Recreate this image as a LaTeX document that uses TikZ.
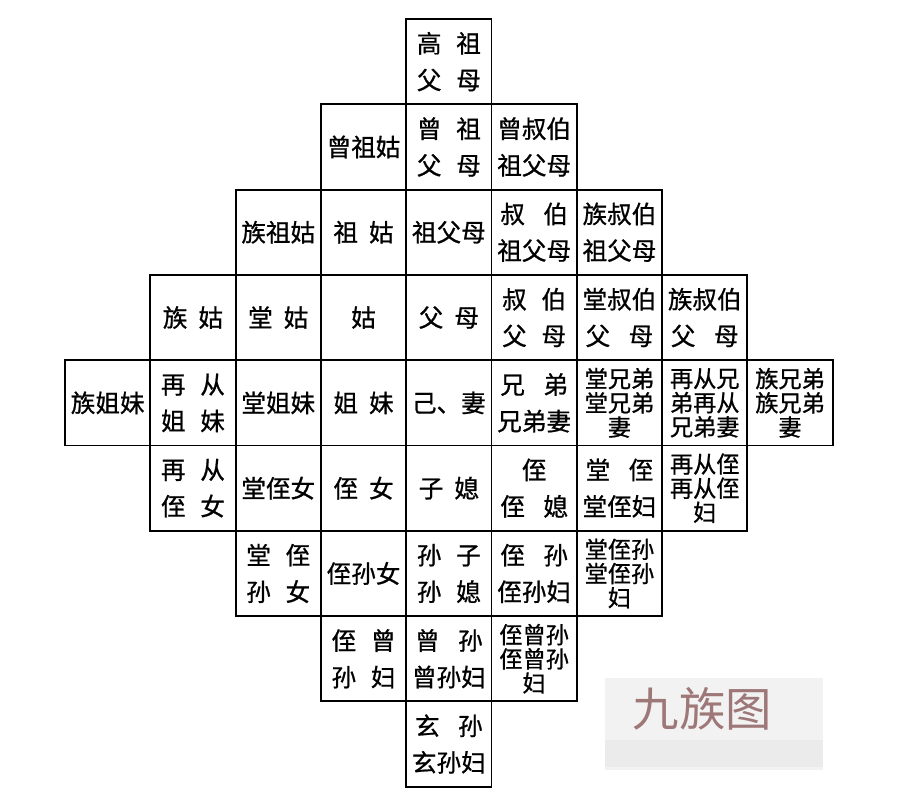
\documentclass[tikz,border=0pt]{standalone}
\usepackage{fontspec}
\setmainfont{Noto Sans CJK SC}
\newfontfamily\cellfont{Noto Sans CJK SC}[FakeBold=0.8]
\usepackage{tikz}
\usepackage{xcolor}
\definecolor{markred}{HTML}{9E7778}
\newcommand{\sgap}{\hspace{0.45em}}
\newcommand{\ngap}{\hspace{0.6em}}
\newcommand{\wgap}{\hspace{0.75em}}

\begin{document}
\begin{tikzpicture}[
    x=2.1325cm,y=-2.1325cm,
    cell/.style={rectangle,draw,line width=1.4pt,minimum size=2.1325cm,inner sep=0pt,
      align=center,font=\cellfont\fontsize{17.5}{26}\selectfont},
    tight/.style={cell,font=\cellfont\fontsize{16.5}{17.2}\selectfont}
    ]
    \useasboundingbox (-0.7620,-0.2227) rectangle (9.9883,9.1559);
    % generation row 0
    \node [cell] (c40) at (4.5,0.5) {高\ngap 祖\\父\ngap 母};
    % row 1
    \node [cell] (c31) at (3.5,1.5) {曾祖姑};
    \node [cell] (c41) at (4.5,1.5) {曾\ngap 祖\\父\ngap 母};
    \node [cell] (c51) at (5.5,1.5) {曾叔伯\\祖父母};
    % row 2
    \node [cell] (c22) at (2.5,2.5) {族祖姑};
    \node [cell] (c32) at (3.5,2.5) {祖\sgap 姑};
    \node [cell] (c42) at (4.5,2.5) {祖父母};
    \node [cell] (c52) at (5.5,2.5) {叔\wgap 伯\\祖父母};
    \node [cell] (c62) at (6.5,2.5) {族叔伯\\祖父母};
    % row 3
    \node [cell] (c13) at (1.5,3.5) {族\sgap 姑};
    \node [cell] (c23) at (2.5,3.5) {堂\sgap 姑};
    \node [cell] (c33) at (3.5,3.5) {姑};
    \node [cell] (c43) at (4.5,3.5) {父\sgap 母};
    \node [cell] (c53) at (5.5,3.5) {叔\ngap 伯\\父\ngap 母};
    \node [cell] (c63) at (6.5,3.5) {堂叔伯\\父\wgap 母};
    \node [cell] (c73) at (7.5,3.5) {族叔伯\\父\wgap 母};
    % row 4
    \node [cell] (c04) at (0.5,4.5) {族姐妹};
    \node [cell] (c14) at (1.5,4.5) {再\ngap 从\\姐\ngap 妹};
    \node [cell] (c24) at (2.5,4.5) {堂姐妹};
    \node [cell] (c34) at (3.5,4.5) {姐\sgap 妹};
    \node [cell] (c44) at (4.5,4.5) {己、妻};
    \node [cell] (c54) at (5.5,4.5) {兄\wgap 弟\\兄弟妻};
    \node [tight] (c64) at (6.5,4.5) {堂兄弟\\堂兄弟\\妻};
    \node [tight] (c74) at (7.5,4.5) {再从兄\\弟再从\\兄弟妻};
    \node [tight] (c84) at (8.5,4.5) {族兄弟\\族兄弟\\妻};
    % row 5
    \node [cell] (c15) at (1.5,5.5) {再\ngap 从\\侄\ngap 女};
    \node [cell] (c25) at (2.5,5.5) {堂侄女};
    \node [cell] (c35) at (3.5,5.5) {侄\sgap 女};
    \node [cell] (c45) at (4.5,5.5) {子\sgap 媳};
    \node [cell] (c55) at (5.5,5.5) {侄\\侄\wgap 媳};
    \node [cell] (c65) at (6.5,5.5) {堂\wgap 侄\\堂侄妇};
    \node [tight] (c75) at (7.5,5.5) {再从侄\\再从侄\\妇};
    % row 6
    \node [cell] (c26) at (2.5,6.5) {堂\ngap 侄\\孙\ngap 女};
    \node [cell] (c36) at (3.5,6.5) {侄孙女};
    \node [cell] (c46) at (4.5,6.5) {孙\ngap 子\\孙\ngap 媳};
    \node [cell] (c56) at (5.5,6.5) {侄\wgap 孙\\侄孙妇};
    \node [tight] (c66) at (6.5,6.5) {堂侄孙\\堂侄孙\\妇};
    % row 7
    \node [cell] (c37) at (3.5,7.5) {侄\ngap 曾\\孙\ngap 妇};
    \node [cell] (c47) at (4.5,7.5) {曾\wgap 孙\\曾孙妇};
    \node [tight] (c57) at (5.5,7.5) {侄曾孙\\侄曾孙\\妇};
    % row 8
    \node [cell] (c48) at (4.5,8.5) {玄\wgap 孙\\玄孙妇};
    % title mark
    \fill [black!5] (6.331,7.726) rectangle (8.886,8.804);
    \fill [black!8] (6.331,8.453) rectangle (8.886,8.769);
    \node [text=markred,font=\fontsize{33}{33}\selectfont] (title) at (7.474,8.083) {九族图};
  \end{tikzpicture}
\end{document}
